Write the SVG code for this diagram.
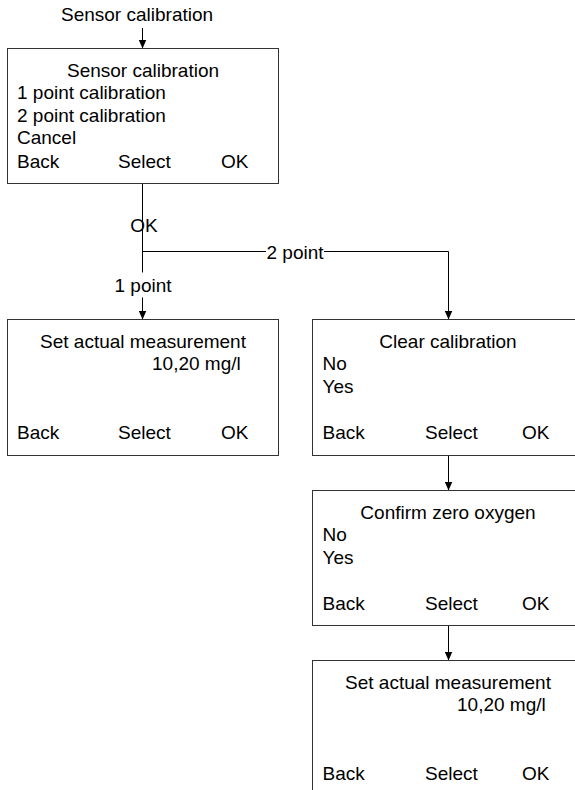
<svg xmlns="http://www.w3.org/2000/svg" width="575" height="790" viewBox="0 0 575 790">
<style>
text{font-family:"Liberation Sans",Arial,sans-serif;font-size:19px;fill:#000}
.c{text-anchor:middle}
.box{fill:#fff;stroke:#333;stroke-width:1}
.ln{fill:none;stroke:#000;stroke-width:1}
.lbg{fill:#fff;stroke:none}
</style>
<defs>
<marker id="arr" viewBox="0 0 9 8" refX="9" refY="4" markerWidth="9" markerHeight="8" markerUnits="userSpaceOnUse" orient="auto">
<path d="M0,0 L9,4 L0,8 z" fill="#000"/>
</marker>
</defs>
<rect width="575" height="790" fill="#fff"/>
<g id="start">
<text x="61" y="21">Sensor calibration</text>
</g>
<g id="connectors">
<line class="ln" x1="142.5" y1="28" x2="142.5" y2="48.5" marker-end="url(#arr)"/>
<line class="ln" x1="142.5" y1="183.5" x2="142.5" y2="319.5" marker-end="url(#arr)"/>
<polyline class="ln" points="142.5,251.5 448.5,251.5 448.5,319.5" marker-end="url(#arr)"/>
<line class="ln" x1="448.5" y1="455.5" x2="448.5" y2="490.5" marker-end="url(#arr)"/>
<line class="ln" x1="448.5" y1="625.5" x2="448.5" y2="660.5" marker-end="url(#arr)"/>
<text class="c" x="144" y="232">OK</text>
<rect class="lbg" x="266" y="241" width="58" height="22"/>
<text class="c" x="295" y="258.5">2 point</text>
<rect class="lbg" x="114" y="272.5" width="58" height="25"/>
<text class="c" x="143" y="292">1 point</text>
</g>
<g id="node-sensor-calibration">
<rect class="box" x="7.5" y="48.5" width="271" height="135"/>
<text class="c" x="143" y="76.5">Sensor calibration</text>
<text x="17" y="99">1 point calibration</text>
<text x="17" y="121.5">2 point calibration</text>
<text x="17" y="144">Cancel</text>
<text x="17" y="167.5">Back</text>
<text x="118" y="167.5">Select</text>
<text x="221" y="167.5">OK</text>
</g>
<g id="node-set-measurement-1">
<rect class="box" x="7.5" y="319.5" width="271" height="136"/>
<text class="c" x="143" y="347.5">Set actual measurement</text>
<text x="152" y="370">10,20 mg/l</text>
<text x="17" y="438.5">Back</text>
<text x="118" y="438.5">Select</text>
<text x="221" y="438.5">OK</text>
</g>
<g id="node-clear-calibration">
<rect class="box" x="312.5" y="319.5" width="271" height="136"/>
<text class="c" x="448" y="347.5">Clear calibration</text>
<text x="322.5" y="370">No</text>
<text x="322.5" y="392.5">Yes</text>
<text x="322.5" y="438.5">Back</text>
<text x="425" y="438.5">Select</text>
<text x="522" y="438.5">OK</text>
</g>
<g id="node-confirm-zero-oxygen">
<rect class="box" x="312.5" y="490.5" width="271" height="135"/>
<text class="c" x="448" y="518.5">Confirm zero oxygen</text>
<text x="322.5" y="541">No</text>
<text x="322.5" y="563.5">Yes</text>
<text x="322.5" y="609.5">Back</text>
<text x="425" y="609.5">Select</text>
<text x="522" y="609.5">OK</text>
</g>
<g id="node-set-measurement-2">
<rect class="box" x="312.5" y="660.5" width="271" height="136"/>
<text class="c" x="448" y="688.5">Set actual measurement</text>
<text x="457" y="711">10,20 mg/l</text>
<text x="322.5" y="779.5">Back</text>
<text x="425" y="779.5">Select</text>
<text x="522" y="779.5">OK</text>
</g>
</svg>
